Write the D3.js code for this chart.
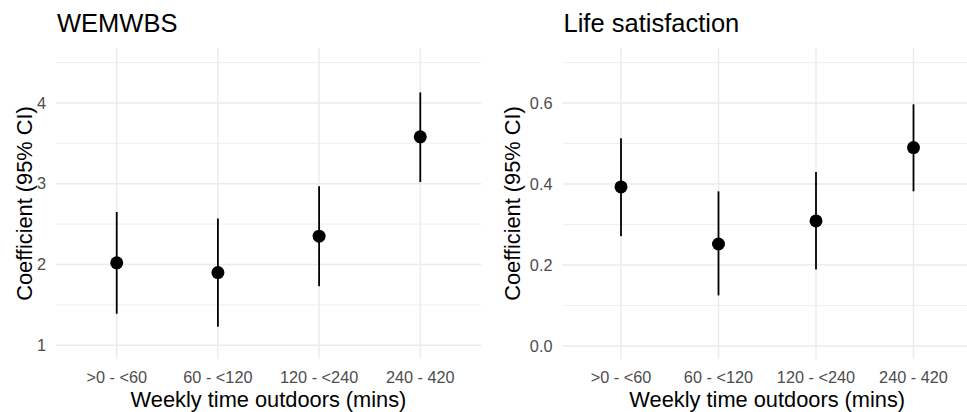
<!DOCTYPE html>
<html>
<head>
<meta charset="utf-8">
<script src="https://cdn.jsdelivr.net/npm/d3@7"></script>
<style>
  body { margin: 0; background: #fff; }
  svg { display: block; font-family: "Liberation Sans", Arial, sans-serif; }
</style>
</head>
<body>
<div id="chart"></div>
<script>
const CATEGORIES = ['>0 - <60', '60 - <120', '120 - <240', '240 - 420'];

const WEMWBS_EST = [2.02, 1.90, 2.35, 3.58];
const WEMWBS_LOW = [1.39, 1.23, 1.73, 3.02];
const WEMWBS_HIGH = [2.65, 2.57, 2.97, 4.13];
const WEMWBS_TICKS = [1, 2, 3, 4];

const LIFE_EST = [0.393, 0.252, 0.309, 0.490];
const LIFE_LOW = [0.271, 0.125, 0.189, 0.382];
const LIFE_HIGH = [0.513, 0.382, 0.430, 0.597];
const LIFE_TICKS = [0, 0.2, 0.4, 0.6];

const W = 967, H = 412;
const PANEL_TOP = 48, PANEL_BOTTOM = 359;

const svg = d3.select('#chart').append('svg').attr('width', W).attr('height', H);

function drawPanel(opts) {
  const { title, est, low, high, ticks, minor, yDomain, xRange, fmt, tickX, yTitleX } = opts;
  const x = d3.scalePoint().domain(CATEGORIES).range(xRange).padding(0.6);
  const y = d3.scaleLinear().domain(yDomain).range([PANEL_BOTTOM, PANEL_TOP]);
  const g = svg.append('g');
  const data = CATEGORIES.map((c, i) => ({ cat: c, est: est[i], low: low[i], high: high[i] }));

  // grid
  g.selectAll('line.minor').data(minor).enter().append('line')
    .attr('x1', xRange[0]).attr('x2', xRange[1])
    .attr('y1', d => y(d)).attr('y2', d => y(d))
    .attr('stroke', '#ebebeb').attr('stroke-width', 0.8);
  g.selectAll('line.major').data(ticks).enter().append('line')
    .attr('x1', xRange[0]).attr('x2', xRange[1])
    .attr('y1', d => y(d)).attr('y2', d => y(d))
    .attr('stroke', '#ebebeb').attr('stroke-width', 1.4);
  g.selectAll('line.vgrid').data(CATEGORIES).enter().append('line')
    .attr('x1', d => x(d)).attr('x2', d => x(d))
    .attr('y1', PANEL_TOP).attr('y2', PANEL_BOTTOM)
    .attr('stroke', '#ebebeb').attr('stroke-width', 1.4);

  // y tick labels
  g.selectAll('text.ytick').data(ticks).enter().append('text')
    .attr('x', tickX).attr('y', d => y(d)).attr('dy', '0.35em')
    .attr('text-anchor', 'end').attr('fill', '#4d4d4d').attr('font-size', 16.3)
    .text(fmt);

  // x tick labels
  g.selectAll('text.xtick').data(CATEGORIES).enter().append('text')
    .attr('x', d => x(d)).attr('y', 383)
    .attr('text-anchor', 'middle').attr('fill', '#4d4d4d').attr('font-size', 16.3)
    .text(d => d);

  // error bars and points
  g.selectAll('line.ci').data(data).enter().append('line')
    .attr('x1', d => x(d.cat)).attr('x2', d => x(d.cat))
    .attr('y1', d => y(d.low)).attr('y2', d => y(d.high))
    .attr('stroke', '#000').attr('stroke-width', 1.8);
  g.selectAll('circle').data(data).enter().append('circle')
    .attr('cx', d => x(d.cat)).attr('cy', d => y(d.est)).attr('r', 6.5)
    .attr('fill', '#000');

  // titles
  g.append('text').attr('x', xRange[0] + 1).attr('y', 32)
    .attr('font-size', 25.5).attr('fill', '#000').text(title);
  g.append('text')
    .attr('x', (xRange[0] + xRange[1]) / 2)
    .attr('y', 407).attr('text-anchor', 'middle')
    .attr('font-size', 21.8).attr('fill', '#000').text('Weekly time outdoors (mins)');
  g.append('text')
    .attr('transform', `translate(${yTitleX},${(PANEL_TOP + PANEL_BOTTOM) / 2}) rotate(-90)`)
    .attr('text-anchor', 'middle').attr('font-size', 21.8).attr('fill', '#000')
    .text('Coefficient (95% CI)');
}

drawPanel({
  title: 'WEMWBS',
  est: WEMWBS_EST, low: WEMWBS_LOW, high: WEMWBS_HIGH,
  ticks: WEMWBS_TICKS, minor: [1.5, 2.5, 3.5, 4.5],
  yDomain: [0.83, 4.68], xRange: [56, 481],
  fmt: d => d3.format('d')(d), tickX: 46, yTitleX: 32
});

drawPanel({
  title: 'Life satisfaction',
  est: LIFE_EST, low: LIFE_LOW, high: LIFE_HIGH,
  ticks: LIFE_TICKS, minor: [0.1, 0.3, 0.5, 0.7],
  yDomain: [-0.032, 0.736], xRange: [562.5, 972],
  fmt: d => d3.format('.1f')(d), tickX: 552.5, yTitleX: 520
});
</script>
</body>
</html>
